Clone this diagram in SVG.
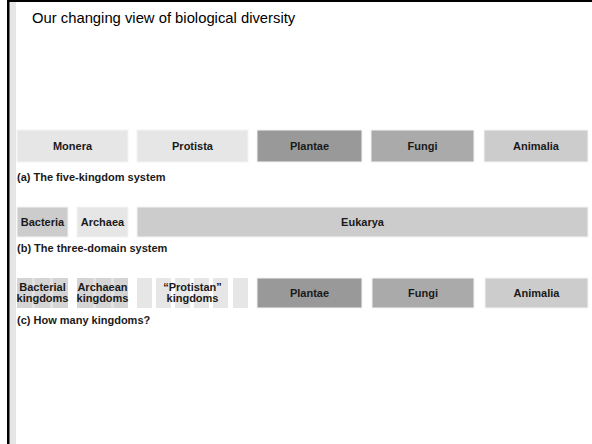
<svg xmlns="http://www.w3.org/2000/svg" width="592" height="444" viewBox="0 0 592 444">
<style>
.t{font-family:"Liberation Sans",Arial,sans-serif;font-weight:bold;font-size:11px;fill:#1a1a1a;text-anchor:middle}
.cap{font-family:"Liberation Sans",Arial,sans-serif;font-weight:bold;font-size:11px;fill:#1a1a1a}
.title{font-family:"Liberation Sans",Arial,sans-serif;font-size:14.8px;fill:#000}
.b{stroke:#f4f4f4;stroke-width:1}
.l1{fill:#e6e6e6}.d1{fill:#999999}.d2{fill:#aaaaaa}.d3{fill:#cccccc}
.s1{fill:#d4d4d4}.s2{fill:#e2e2e2}
</style>
<rect width="592" height="444" fill="#fff"/>
<g id="frame">
<rect x="9" y="2" width="7" height="442" fill="#e6e6e6"/>
<rect x="7" y="0" width="585" height="2" fill="#000"/>
<rect x="7" y="0" width="2.5" height="444" fill="#000"/>
</g>
<text class="title" x="32" y="23">Our changing view of biological diversity</text>
<g id="rowA">
<g id="monera"><rect class="b l1" x="17" y="130" width="111" height="32"/><text class="t" x="72.5" y="150">Monera</text></g>
<g id="protista"><rect class="b l1" x="137" y="130" width="111" height="32"/><text class="t" x="192.5" y="150">Protista</text></g>
<g id="plantaeA"><rect class="b d1" x="257" y="130" width="105" height="32"/><text class="t" x="309.5" y="150">Plantae</text></g>
<g id="fungiA"><rect class="b d2" x="371" y="130" width="103" height="32"/><text class="t" x="422.5" y="150">Fungi</text></g>
<g id="animaliaA"><rect class="b d3" x="484" y="130" width="104" height="32"/><text class="t" x="536" y="150">Animalia</text></g>
<text class="cap" x="17" y="181">(a) The five-kingdom system</text>
</g>
<g id="rowB">
<g id="bacteria"><rect class="b d3" x="17" y="207" width="51" height="30"/><text class="t" x="42.5" y="226">Bacteria</text></g>
<g id="archaea"><rect class="b l1" x="77" y="207" width="51" height="30"/><text class="t" x="102.5" y="226">Archaea</text></g>
<g id="eukarya"><rect class="b d3" x="137" y="207" width="451" height="30"/><text class="t" x="362.5" y="226">Eukarya</text></g>
<text class="cap" x="17" y="252">(b) The three-domain system</text>
</g>
<g id="rowC">
<g id="bacterialK">
<rect class="s2" x="17" y="278" width="51" height="30"/>
<rect class="s1" x="17" y="278" width="15" height="30"/>
<rect class="s1" x="35" y="278" width="15" height="30"/>
<rect class="s1" x="53" y="278" width="15" height="30"/>
<text class="t" x="42.5" y="291">Bacterial</text><text class="t" x="42.5" y="302">kingdoms</text></g>
<g id="archaeanK">
<rect class="s2" x="77" y="278" width="51" height="30"/>
<rect class="s1" x="77" y="278" width="16" height="30"/>
<rect class="s1" x="96" y="278" width="15" height="30"/>
<rect class="s1" x="114" y="278" width="14" height="30"/>
<text class="t" x="102.5" y="291">Archaean</text><text class="t" x="102.5" y="302">kingdoms</text></g>
<g id="protistanK">
<rect class="l1" x="137" y="278" width="15" height="30"/>
<rect class="l1" x="156" y="278" width="15" height="30"/>
<rect class="l1" x="175" y="278" width="15" height="30"/>
<rect class="l1" x="194" y="278" width="15" height="30"/>
<rect class="l1" x="213" y="278" width="15" height="30"/>
<rect class="l1" x="233" y="278" width="15" height="30"/>
<text class="t" x="192.5" y="291">“Protistan”</text><text class="t" x="192.5" y="302">kingdoms</text></g>
<g id="plantaeC"><rect class="b d1" x="257" y="278" width="105" height="30"/><text class="t" x="309.5" y="297">Plantae</text></g>
<g id="fungiC"><rect class="b d2" x="372" y="278" width="102" height="30"/><text class="t" x="423" y="297">Fungi</text></g>
<g id="animaliaC"><rect class="b d3" x="485" y="278" width="103" height="30"/><text class="t" x="536.5" y="297">Animalia</text></g>
<text class="cap" x="17" y="324">(c) How many kingdoms?</text>
</g>
<g id="connectors"/>
</svg>
